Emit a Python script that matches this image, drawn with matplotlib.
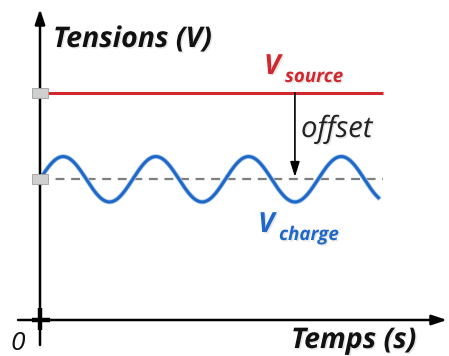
import numpy as np
import matplotlib
matplotlib.use("Agg")
import matplotlib.pyplot as plt
import matplotlib.patheffects as pe
from matplotlib.path import Path

# --- data (schematic) ---
v_source = 10.0          # source voltage level
v_offset_mean = 6.2      # mean of load voltage
v_amplitude = 1.0        # ripple amplitude
period = 1.0             # ripple period (time units)
t_end = 3.65             # end of the load curve
t_source_end = 3.7       # end of the source line
x_axis_end = 4.39
y_axis_top = 13.7
offset_arrow_t = 2.75

PX_X = 92.7   # pixels per time unit
PX_Y = 22.7   # pixels per volt
X0, Y0 = 40, 320  # pixel position of origin


def px(x, y):
    """pixel position -> data coordinates (for text layout only)"""
    return (x - X0) / PX_X, (Y0 - y) / PX_Y


fig = plt.figure(figsize=(4.49, 3.56), dpi=100)
ax = fig.add_axes([0, 0, 1, 1])
ax.set_xlim(-X0 / PX_X, (449 - X0) / PX_X)
ax.set_ylim(-(356 - Y0) / PX_Y, Y0 / PX_Y)
ax.axis("off")

FONT = "Open Sans"
shadow = [pe.withSimplePatchShadow(offset=(1.0, -1.0), shadow_rgbFace="#999999", alpha=0.25)]

# axes arrows
ax.annotate("", xy=(x_axis_end, 0), xytext=(-0.237, 0),
            arrowprops=dict(arrowstyle="-|>,head_length=0.9,head_width=0.3", color="black", lw=1.8,
                            shrinkA=0, shrinkB=0))
ax.annotate("", xy=(0, y_axis_top), xytext=(0, -1.1),
            arrowprops=dict(arrowstyle="-|>,head_length=0.9,head_width=0.3", color="black", lw=1.8,
                            shrinkA=0, shrinkB=0))
# small cross at origin
ax.plot([-0.09, 0.11], [0, 0], color="black", lw=3.2, solid_capstyle="butt")
ax.plot([0, 0], [-0.45, 0.53], color="black", lw=3.2, solid_capstyle="butt")

# source line
ax.plot([0, t_source_end], [v_source, v_source], color="#d0282e", lw=2.2, solid_capstyle="butt")
# mean dashed line
ax.plot([0, t_source_end], [v_offset_mean, v_offset_mean], color="#7f7f7f", lw=1.6,
        dashes=(4, 3))
# load voltage
t = np.linspace(0, t_end, 600)
v_load = v_offset_mean + v_amplitude * np.sin(2 * np.pi * t / period)
ax.plot(t, v_load, color="#1f68c8", lw=2.2,
        path_effects=[pe.Stroke(linewidth=3.4, foreground="#a8c8ee"), pe.Normal()])

# gray tick markers on y axis
rect = Path([(-0.8, -0.5), (0.8, -0.5), (0.8, 0.5), (-0.8, 0.5), (-0.8, -0.5)])
ax.plot([0, 0], [v_source, v_offset_mean], ls="none", marker=rect, ms=11,
        mfc="#cfcfcf", mec="#a0a0a0", mew=0.6, zorder=5)

# offset arrow
ax.annotate("", xy=(offset_arrow_t, v_offset_mean + 0.1), xytext=(offset_arrow_t, v_source),
            arrowprops=dict(arrowstyle="-|>,head_length=0.9,head_width=0.28", color="black", lw=1.2,
                            shrinkA=0, shrinkB=0))

# texts
kw_b = dict(fontweight="bold", style="italic", family=FONT, va="baseline", ha="left",
            path_effects=shadow)
ax.text(*px(53, 47), "Tensions (V)", fontsize=20.5, color="#111111", **kw_b)
ax.text(*px(291, 348), "Temps (s)", fontsize=20.5, color="#111111", **kw_b)
ax.text(*px(10, 350), "0", fontsize=19, style="italic", family=FONT, color="#111111",
        va="baseline", ha="left")
ax.text(*px(264, 74), "V", fontsize=20, color="#d0282e", **kw_b)
ax.text(*px(285, 82), "source", fontsize=13.5, color="#d0282e", **kw_b)
ax.text(*px(301, 137), "offset", fontsize=21, style="italic", family=FONT, color="#222222",
        va="baseline", ha="left", path_effects=shadow)
ax.text(*px(258, 232), "V", fontsize=20, color="#1f68c8", **kw_b)
ax.text(*px(279, 240), "charge", fontsize=13.5, color="#1f68c8", **kw_b)

fig.savefig("out.png", dpi=100)
